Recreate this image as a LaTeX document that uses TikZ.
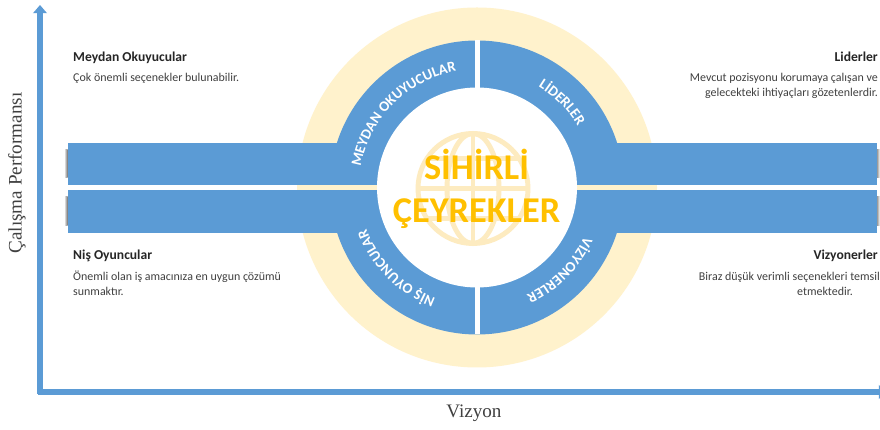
\documentclass[tikz,border=0pt]{standalone}
\usepackage{fontspec}
\setmainfont{Liberation Serif}
\newfontfamily\carlito{Carlito}
\usetikzlibrary{arrows.meta}
\usetikzlibrary{calc}
\usetikzlibrary{decorations.text}

\definecolor{axisblue}{HTML}{5B9BD5}
\definecolor{sand}{HTML}{FFF2CC}
\definecolor{globesand}{HTML}{FDEBC0}
\definecolor{gold}{HTML}{FFC000}
\definecolor{txtgray}{HTML}{404040}

\newcommand\ringfont{\carlito\bfseries\fontsize{12.5}{14}\selectfont}
\tikzstyle{every node}=[inner sep=0pt,text=txtgray,font=\carlito\fontsize{10.2}{12.8}\selectfont]
\tikzstyle{quadtitle}=[font=\carlito\bfseries\fontsize{11.6}{13}\selectfont,text=black!85]
\tikzstyle{axisline}=[axisblue,line width=4.3pt,-{Triangle[length=7pt,width=11.5pt]}]
\tikzstyle{axislabel}=[font=\fontsize{16.3}{18}\selectfont,text=txtgray]
\tikzstyle{ringtext}=[decorate,decoration={text along path,text align=center,text color=white}]

\begin{document}
\begin{tikzpicture}[x=0.03cm,y=0.03cm]
\clip (0,0) rectangle (880,430);
\fill[white] (0,0) rectangle (880,430);
\coordinate (C) at (477,242.5);

% axes
\coordinate (O) at (40,38);
\draw[axisline] ($(O)+(0,-2)$) -- (40,425) coordinate (ytop);
\draw[axisline] ($(O)+(-2,0)$) -- (887,38) coordinate (xend);
\node[axislabel,rotate=90] (perf) at (17,257) {Çalışma Performansı};
\node[axislabel] (viz) at (474,17) {Vizyon};

% sand disc behind the ring
\fill[sand] (C) circle[radius=180];

% the two bands, with a soft shadow at both ends
\shade[left color=white,right color=black!55] (64,252) rectangle (67.5,280);
\shade[left color=white,right color=black!55] (64,204) rectangle (67.5,233);
\shade[left color=black!45,right color=white] (876.5,252) rectangle (880,280);
\shade[left color=black!45,right color=white] (876.5,204) rectangle (880,233);
\fill[axisblue] (67.5,245) rectangle (877,287);
\fill[axisblue] (67.5,197) rectangle (877,240);

% ring split into quarters
\fill[axisblue] (C) circle[radius=147];
\fill[white] ($(C)+(-2.5,-147)$) rectangle ($(C)+(2.5,147)$);
\fill[sand] ($(C)+(-147.5,-2.5)$) rectangle ($(C)+(147.5,2.5)$);
\fill[white] (C) circle[radius=100];

% globe
\begin{scope}[shift={(473,241.5)},globesand,line width=4.2pt]
\draw (0,0) circle[radius=55];
\draw (0,0) ellipse[x radius=26,y radius=55];
\draw (0,-55) -- (0,55);
\draw (-55,0) -- (55,0);
\draw (-46,30) -- (46,30);
\draw (-46,-30) -- (46,-30);
\end{scope}

% ring labels, all read clockwise
\path[ringtext,decoration={text={|\ringfont|MEYDAN OKUYUCULAR}}]
  ($(C)+(180:118)$) arc[start angle=180,end angle=90,radius=118];
\path[ringtext,decoration={text={|\ringfont|LİDERLER}}]
  ($(C)+(90:118)$) arc[start angle=90,end angle=0,radius=118];
\path[ringtext,decoration={text={|\ringfont|VİZYONERLER}}]
  ($(C)+(0:118)$) arc[start angle=0,end angle=-90,radius=118];
\path[ringtext,decoration={text={|\ringfont|NİŞ OYUNCULAR}}]
  ($(C)+(-90:118)$) arc[start angle=-90,end angle=-180,radius=118];

% centre title
\node[anchor=base,text=gold,font=\carlito\bfseries\fontsize{31}{36}\selectfont] (sihirli) at (476.5,250) {SİHİRLİ};
\node[anchor=base,text=gold,font=\carlito\bfseries\fontsize{31}{36}\selectfont] (ceyrek) at (476.5,207) {ÇEYREKLER};

% quadrant notes (base = last line)
\node[quadtitle,anchor=base west] (mo) at (73,368) {Meydan Okuyucular};
\node[anchor=base west] (modesc) at (73,348) {Çok önemli seçenekler bulunabilir.};
\node[quadtitle,anchor=base east] (li) at (878,368) {Liderler};
\node[anchor=base east,align=right] (lidesc) at (878,333) {Mevcut pozisyonu korumaya çalışan ve\\gelecekteki ihtiyaçları gözetenlerdir.};
\node[quadtitle,anchor=base west] (no) at (73,170) {Niş Oyuncular};
\node[anchor=base west,align=left] (nodesc) at (73,134) {Önemli olan iş amacınıza en uygun çözümü\\sunmaktır.};
\node[quadtitle,anchor=base east] (vi) at (878,170) {Vizyonerler};
\node[anchor=base east] (videsc) at (880,149) {Biraz düşük verimli seçenekleri temsil};
\node[anchor=base east] (videsc2) at (853,134) {etmektedir.};
\end{tikzpicture}
\end{document}
